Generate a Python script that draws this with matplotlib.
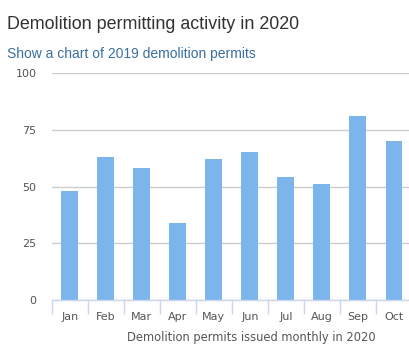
import matplotlib
matplotlib.use('Agg')
import matplotlib.pyplot as plt
import numpy as np

months = ["Jan", "Feb", "Mar", "Apr", "May", "Jun", "Jul", "Aug", "Sep", "Oct"]
permits = [48, 63, 58, 34, 62, 65, 54, 51, 81, 70]
yticks = [0, 25, 50, 75, 100]

W, H = 409, 348
fig = plt.figure(figsize=(W / 100, H / 100), dpi=100)
# plot area in pixels: left 51.7, right 412, top 73, bottom 300
ax = fig.add_axes([51.7 / W, (H - 300) / H, (412 - 51.7) / W, (300 - 73) / H])

x = np.arange(len(months))
ax.bar(x, permits, width=0.47, color="#7cb5ec", zorder=2)
ax.set_xlim(-0.5, len(months) - 0.5)
ax.set_ylim(0, 100)

ax.set_yticks(yticks)
ax.set_yticklabels([str(v) for v in yticks], fontsize=8, color="#555555", family="DejaVu Sans")
ax.tick_params(axis="y", length=0, pad=11)
ax.grid(axis="y", color="#cccccc", linewidth=1, zorder=0)

ax.set_xticks(x)
ax.set_xticklabels(months, fontsize=8, color="#555555", family="DejaVu Sans")
ax.tick_params(axis="x", length=0, pad=9)
ax.set_xticks(np.arange(-0.5, len(months), 1), minor=True)
ax.tick_params(axis="x", which="minor", length=10, color="#ccd6eb", width=1)

for s in ["top", "right", "left"]:
    ax.spines[s].set_visible(False)
ax.spines["bottom"].set_color("#ccd6eb")
ax.spines["bottom"].set_linewidth(1)

fig.text(7 / W, 1 - 29 / H, "Demolition permitting activity in 2020", fontsize=12.9,
         color="#333333", family="Liberation Sans", va="baseline")
fig.text(7 / W, 1 - 58 / H, "Show a chart of 2019 demolition permits", fontsize=10,
         color="#3a6fa0", family="Liberation Sans", va="baseline")
fig.text(251 / W, 1 - 337 / H, "Demolition permits issued monthly in 2020", fontsize=8.3,
         color="#555555", family="DejaVu Sans", ha="center", va="center")

fig.savefig("out.png", dpi=100)
